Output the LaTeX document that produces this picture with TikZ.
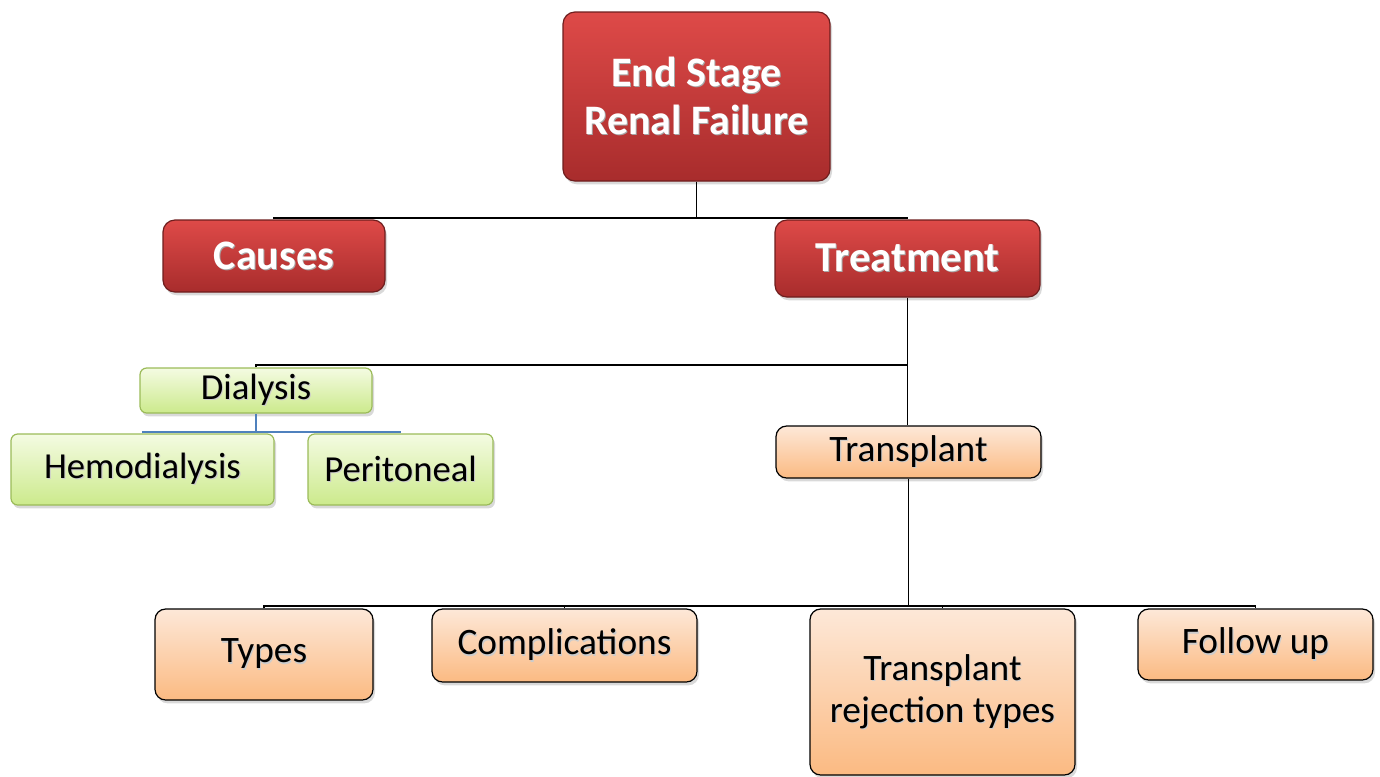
\documentclass[tikz,border=0pt]{standalone}
\usepackage{fontspec}
\setmainfont{Carlito}
\usetikzlibrary{shadows}
\definecolor{redtop}{RGB}{222,74,72}
\definecolor{redbot}{RGB}{168,44,44}
\definecolor{redline}{RGB}{110,30,30}
\definecolor{grntop}{RGB}{244,251,226}
\definecolor{grnbot}{RGB}{204,234,140}
\definecolor{grnline}{RGB}{155,187,89}
\definecolor{orgtop}{RGB}{253,232,216}
\definecolor{orgbot}{RGB}{251,186,130}
\definecolor{blueline}{RGB}{79,129,189}
\newcommand\tsh[2][black!35]{\leavevmode\rlap{\kern0.8pt\raisebox{-0.8pt}{\textcolor{#1}{#2}}}#2}
\tikzset{
  base/.style={inner sep=0pt, align=center, line width=0.9pt,
    drop shadow={shadow xshift=1.5pt, shadow yshift=-2.5pt, opacity=0.3}},
  redbox/.style={base, rounded corners=9pt, draw=redline, top color=redtop, bottom color=redbot,
    text=white, font=\fontsize{31.5}{36}\selectfont\bfseries},
  grnbox/.style={base, rounded corners=5pt, draw=grnline, top color=grntop, bottom color=grnbot,
    text=black, font=\fontsize{27.5}{33}\selectfont},
  orgbox/.style={base, rounded corners=8pt, draw=black, top color=orgtop, bottom color=orgbot,
    text=black},
  conn/.style={line width=1.2pt, draw=black},
  bconn/.style={line width=1.2pt, draw=blueline}
}
\begin{document}
\begin{tikzpicture}[x=0.75pt,y=-0.75pt]
\useasboundingbox (0,0) rectangle (1380,776);
% nodes
\node[redbox, minimum width=267*0.75pt, minimum height=169*0.75pt] (top) at (696.5,96.5)
  {\tsh{End Stage}\\[0pt]\tsh{Renal Failure}};
\node[redbox, minimum width=222*0.75pt, minimum height=72*0.75pt] (causes) at (274,256) {\tsh{Causes}};
\node[redbox, font=\fontsize{32}{36}\selectfont\bfseries, minimum width=265*0.75pt, minimum height=77*0.75pt] (treat) at (907.5,258.5) {\tsh{Treatment}};
\node[grnbox, minimum width=232*0.75pt, minimum height=45*0.75pt] (dial) at (256,390.5) {\tsh[black!20]{Dialysis}};
\node[grnbox, minimum width=263*0.75pt, minimum height=71*0.75pt] (hemo) at (142.5,469.5) {\tsh[black!20]{Hemodialysis}};
\node[grnbox, minimum width=185*0.75pt, minimum height=71*0.75pt] (perit) at (400.5,469.5) {\tsh[black!20]{Peritoneal}};
\node[orgbox, font=\fontsize{28}{32}\selectfont, minimum width=265*0.75pt, minimum height=52*0.75pt] (trans) at (908.5,452) {\tsh[black!20]{Transplant}};
\node[orgbox, font=\fontsize{28}{32}\selectfont, minimum width=218*0.75pt, minimum height=91*0.75pt] (types) at (264,654.5) {\tsh[black!20]{Types}};
\node[orgbox, font=\fontsize{28}{32}\selectfont, minimum width=265*0.75pt, minimum height=73*0.75pt] (compl) at (564.5,645.5) {\tsh[black!20]{Complications}};
\node[orgbox, font=\fontsize{28}{31.5}\selectfont, minimum width=265*0.75pt, minimum height=166*0.75pt] (rej) at (942.5,692) {\tsh[black!20]{Transplant}\\\tsh[black!20]{rejection types}};
\node[orgbox, font=\fontsize{28}{32}\selectfont, minimum width=235*0.75pt, minimum height=71*0.75pt] (follow) at (1255.5,644.5) {\tsh[black!20]{Follow up}};
% bus coordinates
\coordinate (bus1) at (0,218);
\coordinate (bus2) at (0,365);
\coordinate (bus3) at (0,432);
\coordinate (bus4) at (0,606);
% connectors
\draw[conn] (top.south) -- (top.south |- bus1);
\draw[conn] (causes.north) -- (causes.north |- bus1) -- (treat.north |- bus1) -- (treat.north);
\draw[conn] (treat.south) -- (trans.north -| treat.south);
\draw[conn] (dial.north) -- (dial.north |- bus2) -- (treat.south |- bus2);
\draw[bconn] (dial.south) -- (dial.south |- bus3);
\draw[bconn] (hemo.north) -- (hemo.north |- bus3) -- (perit.north |- bus3) -- (perit.north);
\draw[conn] (trans.south) -- (trans.south |- bus4);
\draw[conn] (types.north) -- (types.north |- bus4) -- (follow.north |- bus4) -- (follow.north);
\draw[conn] (compl.north) -- (compl.north |- bus4);
\draw[conn] (rej.north) -- (rej.north |- bus4);
\end{tikzpicture}
\end{document}
